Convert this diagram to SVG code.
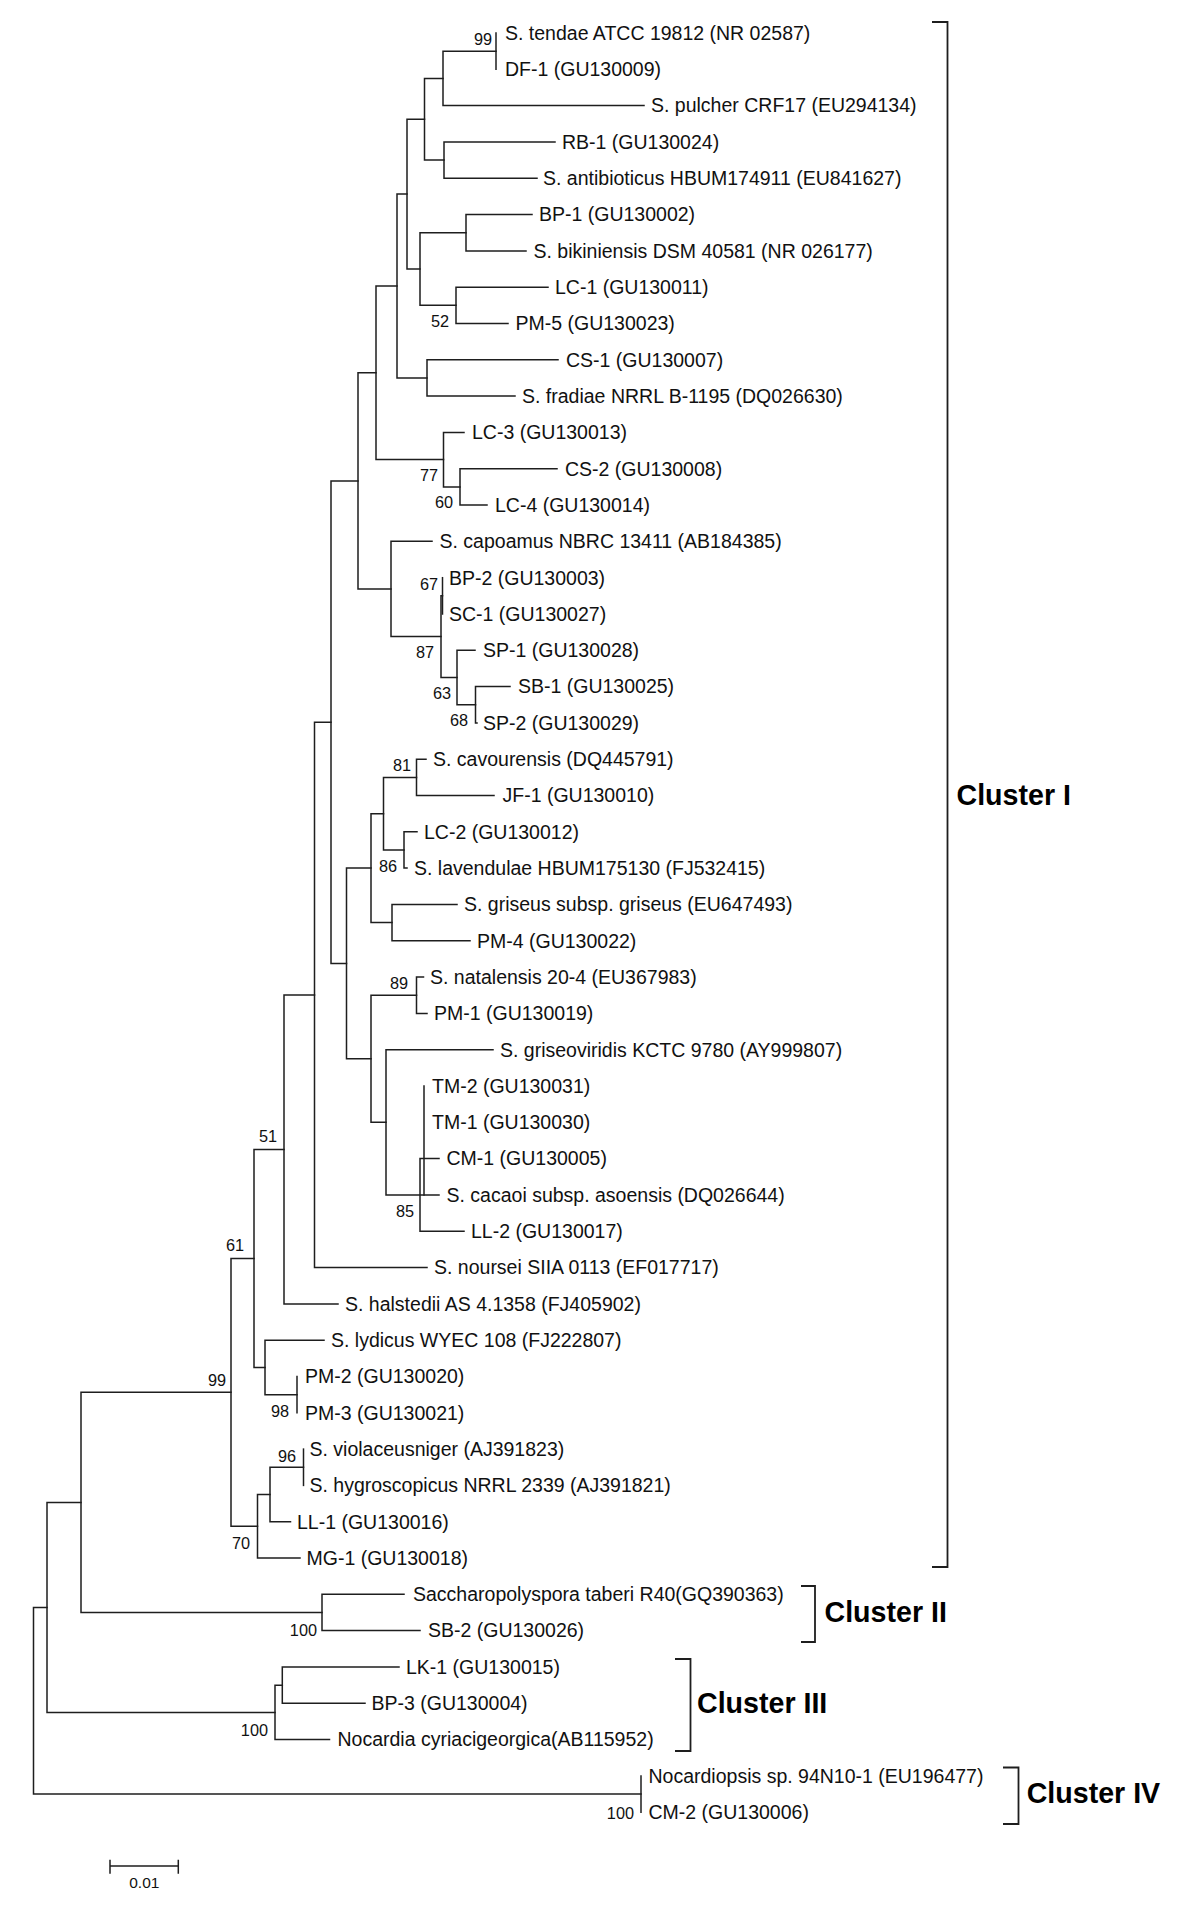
<svg xmlns="http://www.w3.org/2000/svg" width="1200" height="1913" viewBox="0 0 1200 1913">
<style>
.br{fill:none;stroke:#1e1e1e;stroke-width:1.5;stroke-linecap:square}
.lf{font-family:"Liberation Sans",Arial,sans-serif;font-size:19.5px;fill:#111}
.bs{font-family:"Liberation Sans",Arial,sans-serif;font-size:16.3px;fill:#111;text-anchor:end}
.cl{font-family:"Liberation Sans",Arial,sans-serif;font-size:28.6px;font-weight:bold;fill:#000}
.bk{fill:none;stroke:#1e1e1e;stroke-width:1.8}
.sc{font-family:"Liberation Sans",Arial,sans-serif;font-size:15.5px;fill:#111;text-anchor:middle}
</style>
<rect width="1200" height="1913" fill="#fff"/>
<g id="connectors">
<path class="br" d="M496,33 V69.3"/>
<path class="br" d="M443,51.2 V105.6 M443,51.2 H496 M443,105.6 H644"/>
<path class="br" d="M444,141.9 V178.2 M444,141.9 H555 M444,178.2 H537"/>
<path class="br" d="M424.5,78.4 V160 M424.5,78.4 H443 M424.5,160 H444"/>
<path class="br" d="M466,214.6 V250.9 M466,214.6 H532 M466,250.9 H526"/>
<path class="br" d="M456,287.2 V323.5 M456,287.2 H548 M456,323.5 H508"/>
<path class="br" d="M420,232.7 V305.3 M420,232.7 H466 M420,305.3 H456"/>
<path class="br" d="M407,119.2 V269 M407,119.2 H424.5 M407,269 H420"/>
<path class="br" d="M427,359.8 V396.1 M427,359.8 H558 M427,396.1 H515"/>
<path class="br" d="M397,194.1 V378 M397,194.1 H407 M397,378 H427"/>
<path class="br" d="M460,468.7 V505 M460,468.7 H557 M460,505 H487"/>
<path class="br" d="M443.5,432.4 V486.9 M443.5,432.4 H464 M443.5,486.9 H460"/>
<path class="br" d="M376,286 V459.6 M376,286 H397 M376,459.6 H443.5"/>
<path class="br" d="M442.5,577.7 V614"/>
<path class="br" d="M475.5,686.6 V722.9 M475.5,686.6 H510 M475.5,722.9 H477"/>
<path class="br" d="M457,650.3 V704.7 M457,650.3 H475 M457,704.7 H475.5"/>
<path class="br" d="M441,595.8 V677.5 M441,595.8 H442.5 M441,677.5 H457"/>
<path class="br" d="M391,541.3 V636.6 M391,541.3 H432 M391,636.6 H441"/>
<path class="br" d="M358,372.8 V589 M358,372.8 H376 M358,589 H391"/>
<path class="br" d="M416.5,759.2 V795.5 M416.5,759.2 H426 M416.5,795.5 H494"/>
<path class="br" d="M404,831.8 V868.1 M404,831.8 H417 M404,868.1 H407"/>
<path class="br" d="M383.5,777.4 V850 M383.5,777.4 H416.5 M383.5,850 H404"/>
<path class="br" d="M392,904.4 V940.8 M392,904.4 H457 M392,940.8 H470"/>
<path class="br" d="M371,813.7 V922.6 M371,813.7 H383.5 M371,922.6 H392"/>
<path class="br" d="M416.5,977.1 V1013.4 M416.5,977.1 H423.5 M416.5,1013.4 H427"/>
<path class="br" d="M424,1086 V1194.9 M420,1158.6 V1231.2 M420,1158.6 H439 M420,1231.2 H464"/>
<path class="br" d="M386,1049.7 V1194.9 M386,1049.7 H493 M386,1194.9 H439"/>
<path class="br" d="M371,995.3 V1122.3 M371,995.3 H416.5 M371,1122.3 H386"/>
<path class="br" d="M346.5,868.1 V1058.8 M346.5,868.1 H371 M346.5,1058.8 H371"/>
<path class="br" d="M331,480.9 V963.5 M331,480.9 H358 M331,963.5 H346.5"/>
<path class="br" d="M314.5,722.2 V1267.5 M314.5,722.2 H331 M314.5,1267.5 H427"/>
<path class="br" d="M284,994.9 V1303.9 M284,994.9 H314.5 M284,1303.9 H338"/>
<path class="br" d="M297,1376.5 V1412.8"/>
<path class="br" d="M265,1340.2 V1394.7 M265,1340.2 H324 M265,1394.7 H297"/>
<path class="br" d="M254,1149.4 V1367.4 M254,1149.4 H284 M254,1367.4 H265"/>
<path class="br" d="M303.5,1449.1 V1485.4"/>
<path class="br" d="M270,1467.3 V1521.7 M270,1467.3 H303.5 M270,1521.7 H290.5"/>
<path class="br" d="M257.5,1494.5 V1558 M257.5,1494.5 H270 M257.5,1558 H300"/>
<path class="br" d="M231,1258.4 V1526.3 M231,1258.4 H254 M231,1526.3 H257.5"/>
<path class="br" d="M322,1594.3 V1630.6 M322,1594.3 H404 M322,1630.6 H420"/>
<path class="br" d="M81,1392.3 V1612.5 M81,1392.3 H231 M81,1612.5 H322"/>
<path class="br" d="M282.3,1667 V1703.3 M282.3,1667 H399 M282.3,1703.3 H365"/>
<path class="br" d="M275,1685.2 V1739.6 M275,1685.2 H282.3 M275,1739.6 H329.5"/>
<path class="br" d="M47,1502.4 V1712.4 M47,1502.4 H81 M47,1712.4 H275"/>
<path class="br" d="M641,1775.9 V1812.2"/>
<path class="br" d="M33.5,1607.4 V1794 M33.5,1607.4 H47 M33.5,1794 H641"/>
</g>
<g id="leaves">
<g id="leaf-0"><text class="lf" x="505" y="39.8">S. tendae ATCC 19812 (NR 02587)</text></g>
<g id="leaf-1"><text class="lf" x="505" y="76.1">DF-1 (GU130009)</text></g>
<g id="leaf-2"><text class="lf" x="651" y="112.4">S. pulcher CRF17 (EU294134)</text></g>
<g id="leaf-3"><text class="lf" x="562" y="148.7">RB-1 (GU130024)</text></g>
<g id="leaf-4"><text class="lf" x="543" y="185">S. antibioticus HBUM174911 (EU841627)</text></g>
<g id="leaf-5"><text class="lf" x="539" y="221.4">BP-1 (GU130002)</text></g>
<g id="leaf-6"><text class="lf" x="533.5" y="257.7">S. bikiniensis DSM 40581 (NR 026177)</text></g>
<g id="leaf-7"><text class="lf" x="555" y="294">LC-1 (GU130011)</text></g>
<g id="leaf-8"><text class="lf" x="515.5" y="330.3">PM-5 (GU130023)</text></g>
<g id="leaf-9"><text class="lf" x="566" y="366.6">CS-1 (GU130007)</text></g>
<g id="leaf-10"><text class="lf" x="522" y="402.9">S. fradiae NRRL B-1195 (DQ026630)</text></g>
<g id="leaf-11"><text class="lf" x="472" y="439.2">LC-3 (GU130013)</text></g>
<g id="leaf-12"><text class="lf" x="565" y="475.5">CS-2 (GU130008)</text></g>
<g id="leaf-13"><text class="lf" x="495" y="511.8">LC-4 (GU130014)</text></g>
<g id="leaf-14"><text class="lf" x="439.5" y="548.1">S. capoamus NBRC 13411 (AB184385)</text></g>
<g id="leaf-15"><text class="lf" x="449" y="584.5">BP-2 (GU130003)</text></g>
<g id="leaf-16"><text class="lf" x="449" y="620.8">SC-1 (GU130027)</text></g>
<g id="leaf-17"><text class="lf" x="483" y="657.1">SP-1 (GU130028)</text></g>
<g id="leaf-18"><text class="lf" x="518" y="693.4">SB-1 (GU130025)</text></g>
<g id="leaf-19"><text class="lf" x="483" y="729.7">SP-2 (GU130029)</text></g>
<g id="leaf-20"><text class="lf" x="433" y="766">S. cavourensis (DQ445791)</text></g>
<g id="leaf-21"><text class="lf" x="502.5" y="802.3">JF-1 (GU130010)</text></g>
<g id="leaf-22"><text class="lf" x="424" y="838.6">LC-2 (GU130012)</text></g>
<g id="leaf-23"><text class="lf" x="414" y="874.9">S. lavendulae HBUM175130 (FJ532415)</text></g>
<g id="leaf-24"><text class="lf" x="464" y="911.2">S. griseus subsp. griseus (EU647493)</text></g>
<g id="leaf-25"><text class="lf" x="477" y="947.6">PM-4 (GU130022)</text></g>
<g id="leaf-26"><text class="lf" x="430" y="983.9">S. natalensis 20-4 (EU367983)</text></g>
<g id="leaf-27"><text class="lf" x="434" y="1020.2">PM-1 (GU130019)</text></g>
<g id="leaf-28"><text class="lf" x="500" y="1056.5">S. griseoviridis KCTC 9780 (AY999807)</text></g>
<g id="leaf-29"><text class="lf" x="432" y="1092.8">TM-2 (GU130031)</text></g>
<g id="leaf-30"><text class="lf" x="432" y="1129.1">TM-1 (GU130030)</text></g>
<g id="leaf-31"><text class="lf" x="446.5" y="1165.4">CM-1 (GU130005)</text></g>
<g id="leaf-32"><text class="lf" x="446.5" y="1201.7">S. cacaoi subsp. asoensis (DQ026644)</text></g>
<g id="leaf-33"><text class="lf" x="471" y="1238">LL-2 (GU130017)</text></g>
<g id="leaf-34"><text class="lf" x="434" y="1274.3">S. noursei SIIA 0113 (EF017717)</text></g>
<g id="leaf-35"><text class="lf" x="345" y="1310.7">S. halstedii AS 4.1358 (FJ405902)</text></g>
<g id="leaf-36"><text class="lf" x="331" y="1347">S. lydicus WYEC 108 (FJ222807)</text></g>
<g id="leaf-37"><text class="lf" x="305" y="1383.3">PM-2 (GU130020)</text></g>
<g id="leaf-38"><text class="lf" x="305" y="1419.6">PM-3 (GU130021)</text></g>
<g id="leaf-39"><text class="lf" x="309.5" y="1455.9">S. violaceusniger (AJ391823)</text></g>
<g id="leaf-40"><text class="lf" x="309.5" y="1492.2">S. hygroscopicus NRRL 2339 (AJ391821)</text></g>
<g id="leaf-41"><text class="lf" x="297" y="1528.5">LL-1 (GU130016)</text></g>
<g id="leaf-42"><text class="lf" x="306.5" y="1564.8">MG-1 (GU130018)</text></g>
<g id="leaf-43"><text class="lf" x="413" y="1601.1">Saccharopolyspora taberi R40(GQ390363)</text></g>
<g id="leaf-44"><text class="lf" x="428" y="1637.4">SB-2 (GU130026)</text></g>
<g id="leaf-45"><text class="lf" x="406" y="1673.8">LK-1 (GU130015)</text></g>
<g id="leaf-46"><text class="lf" x="371.5" y="1710.1">BP-3 (GU130004)</text></g>
<g id="leaf-47"><text class="lf" x="337.5" y="1746.4">Nocardia cyriacigeorgica(AB115952)</text></g>
<g id="leaf-48"><text class="lf" x="648.5" y="1782.7">Nocardiopsis sp. 94N10-1 (EU196477)</text></g>
<g id="leaf-49"><text class="lf" x="648.5" y="1819">CM-2 (GU130006)</text></g>
</g>
<g id="support">
<g id="bs-1"><text class="bs" x="492" y="44.5">99</text></g>
<g id="bs-2"><text class="bs" x="449" y="327">52</text></g>
<g id="bs-3"><text class="bs" x="438" y="480.5">77</text></g>
<g id="bs-4"><text class="bs" x="453" y="508">60</text></g>
<g id="bs-5"><text class="bs" x="438" y="589.5">67</text></g>
<g id="bs-6"><text class="bs" x="434" y="658.2">87</text></g>
<g id="bs-7"><text class="bs" x="451" y="698.5">63</text></g>
<g id="bs-8"><text class="bs" x="468" y="726.2">68</text></g>
<g id="bs-9"><text class="bs" x="411" y="770.5">81</text></g>
<g id="bs-10"><text class="bs" x="397" y="872.2">86</text></g>
<g id="bs-11"><text class="bs" x="408" y="988.5">89</text></g>
<g id="bs-12"><text class="bs" x="414" y="1217.2">85</text></g>
<g id="bs-13"><text class="bs" x="277" y="1142">51</text></g>
<g id="bs-14"><text class="bs" x="244" y="1250.5">61</text></g>
<g id="bs-15"><text class="bs" x="226" y="1385.5">99</text></g>
<g id="bs-16"><text class="bs" x="289" y="1417.2">98</text></g>
<g id="bs-17"><text class="bs" x="296" y="1461.5">96</text></g>
<g id="bs-18"><text class="bs" x="250" y="1548.5">70</text></g>
<g id="bs-19"><text class="bs" x="317" y="1636">100</text></g>
<g id="bs-20"><text class="bs" x="268" y="1735.5">100</text></g>
<g id="bs-21"><text class="bs" x="634" y="1818.5">100</text></g>
</g>
<g id="cluster-1"><path class="bk" d="M932,22 H947.5 V1567 H932"/><text class="cl" x="956.5" y="805.3">Cluster I</text></g>
<g id="cluster-2"><path class="bk" d="M801,1586 H815 V1642 H801"/><text class="cl" x="824.5" y="1622.3">Cluster II</text></g>
<g id="cluster-3"><path class="bk" d="M675,1659 H690.5 V1751 H675"/><text class="cl" x="697" y="1713.3">Cluster III</text></g>
<g id="cluster-4"><path class="bk" d="M1003,1767.5 H1018.5 V1824 H1003"/><text class="cl" x="1026.7" y="1803.3">Cluster IV</text></g>
<g id="scale-bar"><path class="br" d="M110,1866 H178.3 M110,1860.5 V1873 M178.3,1860.5 V1873"/><text class="sc" x="144.3" y="1888">0.01</text></g>
</svg>
